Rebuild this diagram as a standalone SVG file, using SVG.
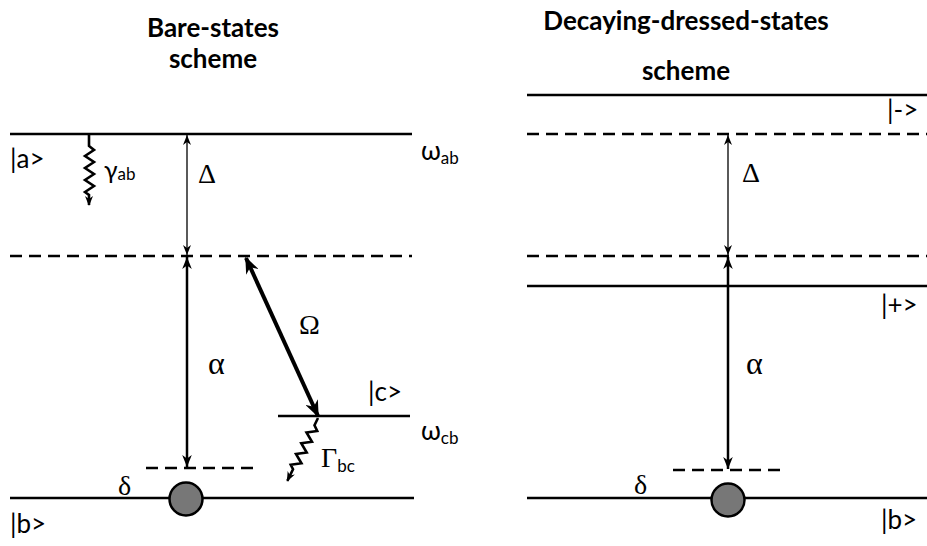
<svg xmlns="http://www.w3.org/2000/svg" width="927" height="546" viewBox="0 0 927 546">
<defs>
<style>
.lvl{stroke:#000;stroke-width:2.5;fill:none}
.dash{stroke:#000;stroke-width:2.5;stroke-dasharray:12 7;fill:none}
.thin{stroke:#000;stroke-width:1.3;fill:none;marker-start:url(#mThin);marker-end:url(#mThin)}
.mid{stroke:#000;stroke-width:2.5;fill:none;marker-start:url(#mMid);marker-end:url(#mMid)}
.thick{stroke:#000;stroke-width:4;fill:none;marker-start:url(#mBig);marker-end:url(#mBig)}
.wave{stroke:#000;stroke-width:2.6;fill:none;stroke-linejoin:miter;marker-end:url(#mWave)}
.atom{fill:#777;stroke:#000;stroke-width:2.5}
.t{font-family:Lato,"Open Sans","Liberation Sans",sans-serif;fill:#000}
.g{font-family:"Liberation Serif","Times New Roman",serif;fill:#000}
.title{font-family:Lato,"Open Sans","Liberation Sans",sans-serif;font-weight:bold;font-size:26px;text-anchor:middle;fill:#000}
.lab{font-size:26px}
.sub{font-size:17px}
</style>
<marker id="mThin" markerUnits="userSpaceOnUse" viewBox="0 0 10 8" markerWidth="10" markerHeight="8" refX="10" refY="4" orient="auto-start-reverse"><path d="M0,0 L10,4 L0,8 L3,4 z" fill="#000"/></marker>
<marker id="mMid" markerUnits="userSpaceOnUse" viewBox="0 0 10 8" markerWidth="12" markerHeight="10" refX="10" refY="4" orient="auto-start-reverse"><path d="M0,0 L10,4 L0,8 L3,4 z" fill="#000"/></marker>
<marker id="mBig" markerUnits="userSpaceOnUse" viewBox="0 0 10 8" markerWidth="17" markerHeight="14" refX="9" refY="4" orient="auto-start-reverse"><path d="M0,0 L10,4 L0,8 L3,4 z" fill="#000"/></marker>
<marker id="mWave" markerUnits="userSpaceOnUse" viewBox="0 0 10 8" markerWidth="10" markerHeight="9" refX="9" refY="4" orient="auto"><path d="M0,0 L10,4 L0,8 L3,4 z" fill="#000"/></marker>
</defs>
<rect width="927" height="546" fill="#fff"/>

<g id="title-left">
<text class="title" x="213" y="37">Bare-states</text>
<text class="title" x="213" y="68">scheme</text>
</g>
<g id="title-right">
<text class="title" x="686" y="30">Decaying-dressed-states</text>
<text class="title" x="686" y="80">scheme</text>
</g>

<g id="level-a">
<line class="lvl" x1="10" y1="134" x2="412" y2="134"/>
<text class="t lab" x="10" y="168">|a&gt;</text>
<text class="t" x="421" y="160" font-size="26">ω<tspan class="sub" dy="4">ab</tspan></text>
</g>
<g id="level-virtual-left">
<line class="dash" x1="10" y1="256" x2="412" y2="256"/>
</g>
<g id="level-c">
<line class="lvl" x1="278" y1="416" x2="410" y2="416"/>
<text class="t lab" x="368" y="401">|c&gt;</text>
<text class="t" x="421" y="440" font-size="26">ω<tspan class="sub" dy="4">cb</tspan></text>
</g>
<g id="level-delta-left">
<line class="dash" x1="146" y1="468" x2="258" y2="468"/>
<text class="g" x="118" y="495" font-size="28">δ</text>
</g>
<g id="level-b-left">
<line class="lvl" x1="10" y1="498" x2="414" y2="498"/>
<circle class="atom" cx="186" cy="499" r="16.5"/>
<text class="t lab" x="10" y="533">|b&gt;</text>
</g>

<g id="level-minus">
<line class="lvl" x1="527" y1="95" x2="927" y2="95"/>
<text class="t lab" x="887" y="119">|-&gt;</text>
</g>
<g id="level-dash-top-right">
<line class="dash" x1="527" y1="134" x2="927" y2="134"/>
</g>
<g id="level-dash-mid-right">
<line class="dash" x1="527" y1="256" x2="927" y2="256"/>
</g>
<g id="level-plus">
<line class="lvl" x1="527" y1="286" x2="927" y2="286"/>
<text class="t lab" x="881" y="314">|+&gt;</text>
</g>
<g id="level-delta-right">
<line class="dash" x1="673" y1="470" x2="785" y2="470"/>
<text class="g" x="634" y="494" font-size="28">δ</text>
</g>
<g id="level-b-right">
<line class="lvl" x1="527" y1="498" x2="927" y2="498"/>
<circle class="atom" cx="728" cy="500" r="16.5"/>
<text class="t lab" x="881" y="529">|b&gt;</text>
</g>

<g id="connectors">
<line class="thin" x1="187" y1="135" x2="187" y2="255"/>
<line class="mid" x1="187" y1="257" x2="187" y2="467"/>
<line class="thick" x1="246" y1="258" x2="318" y2="416"/>
<path class="wave" d="M89,134 L89,146 L94,150 L85,156 L94,162 L85,168 L94,174 L85,180 L94,186 L85,192 L89,195 L89,205"/>
<g transform="translate(318,418) rotate(26)">
<path class="wave" d="M0,0 L0,8 L5,12 L-4,18 L5,24 L-4,30 L5,36 L-4,42 L5,48 L-4,54 L0,57 L0,70"/>
</g>
<line class="thin" x1="728" y1="135" x2="728" y2="255"/>
<line class="mid" x1="728" y1="257" x2="728" y2="469"/>
</g>

<g id="labels">
<text class="t" x="104" y="179" font-size="25">γ<tspan class="sub" dy="1">ab</tspan></text>
<text class="g" x="198" y="183" font-size="28">Δ</text>
<text class="g" x="208" y="374" font-size="32">α</text>
<text class="g" x="299" y="334" font-size="28">Ω</text>
<text class="g" x="321" y="467" font-size="28">Γ<tspan class="t sub" font-size="18" dy="5">bc</tspan></text>
<text class="g" x="742" y="182" font-size="28">Δ</text>
<text class="g" x="746" y="374" font-size="32">α</text>
</g>
</svg>
